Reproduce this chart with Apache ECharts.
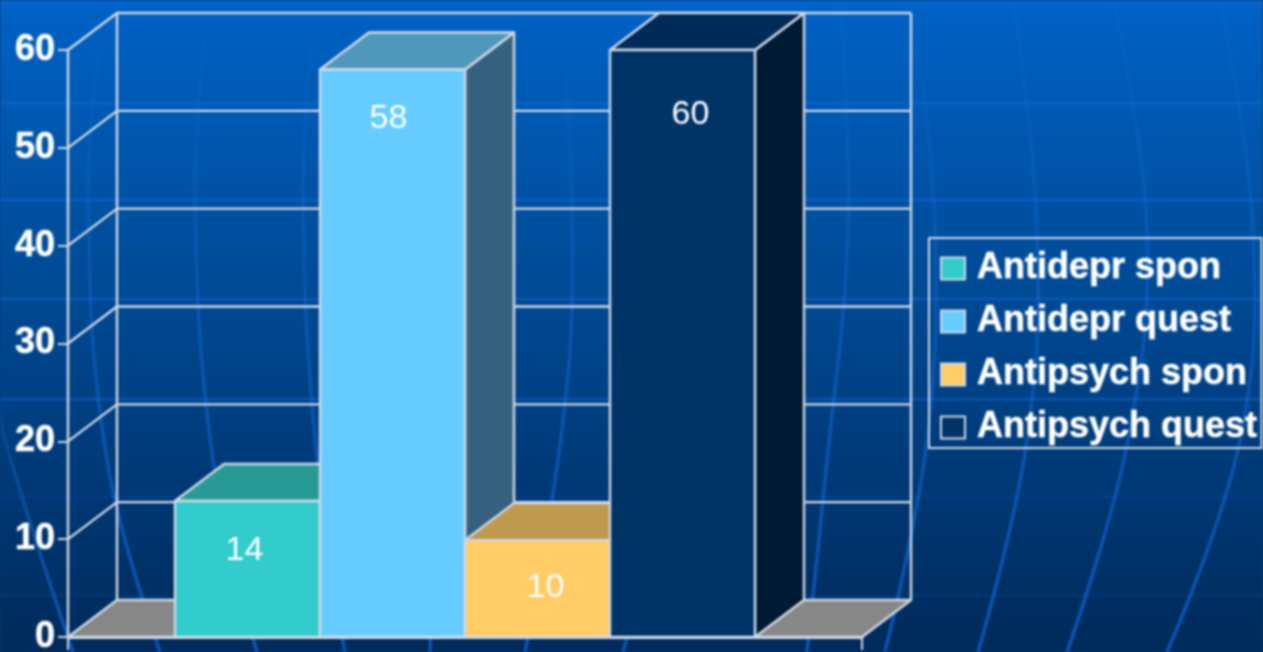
<!DOCTYPE html>
<html><head><meta charset="utf-8">
<style>html,body{margin:0;padding:0;background:#003a78;overflow:hidden}#c{width:1263px;height:652px;filter:blur(0.8px)}</style>
<script src="https://cdn.jsdelivr.net/npm/echarts@6/dist/echarts.min.js"></script>
</head><body><div id="c"></div>
<script>
// ---- data ----
const categories = [''];
const seriesNames = ['Antidepr spon', 'Antidepr quest', 'Antipsych spon', 'Antipsych quest'];
const seriesValues = [14, 58, 10, 60];          // printed labels
const barHeights = [13.9, 58, 9.9, 60];
const yTicks = [10, 20, 30, 40, 50, 60];

// ---- styles ----
const frontColors = ['#33CCCC', '#66CCFF', '#FFCC66', '#003366'];
const topColors = ['#289A96', '#4F97BB', '#BF994D', '#002A57'];
const sideColors = ['#1F7A7A', '#36617E', '#997A3D', '#001A33'];
const labelShift = [[-3, 50], [-4, 49], [8, 47], [8, 65]];
const EDGE = '#D0D9E6', DEPTH_X = 49, DEPTH_Y = 37, BAR_SHARE = 145 / 794;
const FONT = '"Liberation Sans", Arial, sans-serif';

// ---- decorative globe lines of the slide background ----
const bgCurves = [
  [[1220,0],[1253,230],[1240,440],[1167,652]],
  [[1113,0],[1147,230],[1128,440],[1067,652]],
  [[1013,0],[1037,230],[1027,440],[978,652]],
  [[917,40],[935,230],[927,440],[885,652]],
  [[840,0],[848,230],[825,480],[807,652]],
  [[100,40],[88,200],[107,460],[160,652]],
  [[205,40],[195,200],[213,460],[257,652]],
  [[312,40],[303,200],[317,460],[345,652]],
  [[0,400],[5,440],[73,652]],
  [[432,100],[436,400],[430,652]],
  [[565,60],[570,350],[525,652]],
  [[700,60],[690,350],[623,652]]
];
const bgRows = [5, 103, 200, 299, 399, 497, 595];

const gfx = [];
bgCurves.forEach(pts => gfx.push({
  type: 'polyline', silent: true, z: 0,
  shape: { points: pts, smooth: 0.4 },
  style: { fill: null, lineWidth: 3.5, stroke: new echarts.graphic.LinearGradient(0, 0, 0, 1, [
    { offset: 0, color: 'rgba(20,110,215,0.1)' }, { offset: 0.5, color: 'rgba(15,100,205,0.55)' }, { offset: 1, color: 'rgba(10,85,180,1)' }]) }
}));
bgRows.forEach(y => gfx.push({
  type: 'rect', silent: true, z: 0,
  shape: { x: 0, y: y - 1.5, width: 1263, height: 3 },
  style: { fill: `rgba(20,110,225,${y > 550 ? 0.1 : y > 450 ? 0.15 : 0.4})` }
}));

function edgeStyle(fill) { return { fill, stroke: EDGE, lineWidth: 2.4, lineJoin: 'round' }; }

function barRender(i) {
  return function (params, api) {
    const base = api.coord([api.value(0), 0]);
    const top = api.coord([api.value(0), api.value(1)]);
    const band = api.size([1, 0])[0];
    const w = band * BAR_SHARE;
    const x0 = base[0] - 2 * w + i * w, x1 = x0 + w;
    const yT = top[1], yB = base[1];
    return { type: 'group', children: [
      { type: 'polygon', shape: { points: [[x1, yB], [x1 + DEPTH_X, yB - DEPTH_Y], [x1 + DEPTH_X, yT - DEPTH_Y], [x1, yT]] }, style: edgeStyle(sideColors[i]) },
      { type: 'polygon', shape: { points: [[x0, yT], [x0 + DEPTH_X, yT - DEPTH_Y], [x1 + DEPTH_X, yT - DEPTH_Y], [x1, yT]] }, style: edgeStyle(topColors[i]) },
      { type: 'rect', shape: { x: x0, y: yT, width: w, height: yB - yT }, style: edgeStyle(frontColors[i]) },
      { type: 'text', x: (x0 + x1) / 2 + labelShift[i][0], y: yT + labelShift[i][1],
        style: { text: String(seriesValues[i]), fill: '#FFFFFF', font: `34px ${FONT}`, align: 'center', verticalAlign: 'middle' } }
    ]};
  };
}

const barSeries = seriesNames.map((name, i) => ({
  name, type: 'custom', coordinateSystem: 'cartesian2d', z: 5 + i, silent: true,
  renderItem: barRender(i),
  itemStyle: { color: frontColors[i] },
  encode: { x: 0, y: 1 },
  data: [[0, barHeights[i]]]
}));

const wallSeries = {
  type: 'custom', coordinateSystem: 'cartesian2d', z: 3, silent: true, encode: { y: 0 },
  data: yTicks.map(v => [v]),
  renderItem(params, api) {
    const p = api.coord([0, api.value(0)]);
    const band = api.size([1, 0])[0];
    const xL = p[0] - band / 2, xR = p[0] + band / 2, y = p[1];
    return { type: 'polyline', shape: { points: [[xL, y], [xL + DEPTH_X, y - DEPTH_Y], [xR + DEPTH_X, y - DEPTH_Y]] },
      style: { fill: null, stroke: EDGE, lineWidth: 2.4 } };
  }
};

const floorSeries = {
  type: 'custom', coordinateSystem: 'cartesian2d', z: 4, silent: true, encode: { y: 0 },
  data: [[60]],
  renderItem(params, api) {
    const t = api.coord([0, api.value(0)]), b = api.coord([0, 0]);
    const band = api.size([1, 0])[0];
    const xL = b[0] - band / 2, xR = b[0] + band / 2;
    const bx0 = xL + DEPTH_X, bx1 = xR + DEPTH_X, by = b[1] - DEPTH_Y, ty = t[1] - DEPTH_Y;
    return { type: 'group', children: [
      { type: 'polyline', shape: { points: [[bx0, by], [bx0, ty]] }, style: { fill: null, stroke: EDGE, lineWidth: 2.4 } },
      { type: 'polyline', shape: { points: [[bx1, by], [bx1, ty]] }, style: { fill: null, stroke: EDGE, lineWidth: 2.4 } },
      { type: 'polygon', shape: { points: [[xL, b[1]], [bx0, by], [bx1, by], [xR, b[1]]] }, style: edgeStyle('#878787') }
    ]};
  }
};

const chart = echarts.init(document.getElementById('c'), null, { renderer: 'canvas', width: 1263, height: 652 });
chart.setOption({
  animation: false,
  backgroundColor: new echarts.graphic.LinearGradient(0, 0, 0, 1, [
    { offset: 0, color: '#0062C6' }, { offset: 0.35, color: '#004F9F' },
    { offset: 0.7, color: '#003B7A' }, { offset: 1, color: '#002A5A' }]),
  graphic: { elements: gfx },
  grid: { left: 68, right: 401, top: 50, bottom: 15, containLabel: false, outerBoundsMode: 'none' },
  xAxis: { type: 'category', data: categories,
    axisLine: { lineStyle: { color: EDGE, width: 3 } },
    axisTick: { show: true, length: 13, lineStyle: { color: EDGE, width: 2 } },
    axisLabel: { show: false }, splitLine: { show: false } },
  yAxis: { type: 'value', min: 0, max: 60, interval: 10,
    axisLine: { show: true, lineStyle: { color: EDGE, width: 2.4 } },
    axisTick: { show: true, length: 10, lineStyle: { color: EDGE, width: 2 } },
    axisLabel: { color: '#FFFFFF', fontFamily: FONT, fontWeight: 'bold', fontSize: 36, margin: 13, padding: [3, 0, 0, 0],
      textBorderColor: 'rgba(255,255,255,0.5)', textBorderWidth: 1 },
    splitLine: { show: false } },
  legend: { orient: 'vertical', left: 929, top: 238, icon: 'rect', align: 'left',
    padding: [11, 4, 1, 11], itemWidth: 24, itemHeight: 22, itemGap: 14, selectedMode: false,
    borderColor: EDGE, borderWidth: 2, backgroundColor: 'rgba(0,0,0,0)',
    textStyle: { color: '#FFFFFF', fontFamily: FONT, fontWeight: 'bold', fontSize: 36, padding: [0, 0, 0, 7], lineHeight: 39,
      textBorderColor: 'rgba(255,255,255,0.5)', textBorderWidth: 1 },
    data: seriesNames.map((name, i) => ({ name, icon: 'rect',
      itemStyle: { color: frontColors[i], borderColor: EDGE, borderWidth: 2 } })) },
  series: [wallSeries, floorSeries].concat(barSeries)
});
</script></body></html>
